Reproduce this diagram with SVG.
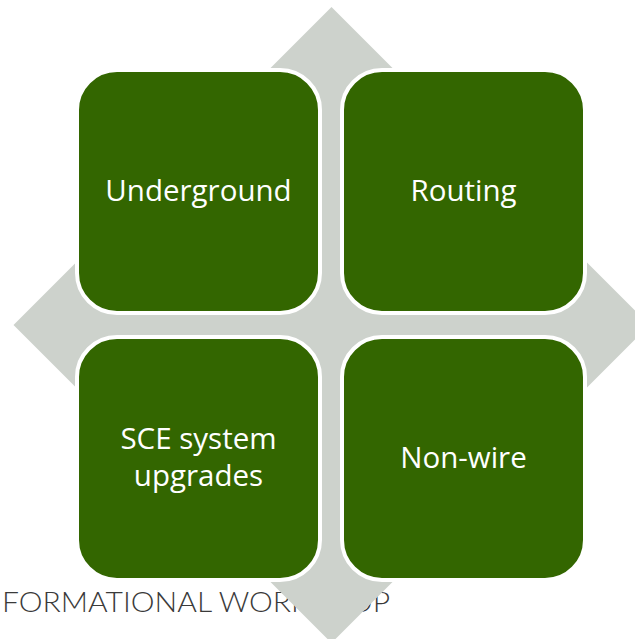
<svg xmlns="http://www.w3.org/2000/svg" width="635" height="639" viewBox="0 0 635 639">
  <style>
    .box { fill: #336600; stroke: #ffffff; stroke-width: 4; }
    .lbl { fill: #ffffff; font-family: "Open Sans", "Liberation Sans", sans-serif; font-size: 29.5px; text-anchor: middle; }
    .foot { fill: #3a3a3a; font-family: Lato, "Liberation Sans", sans-serif; font-weight: 300; font-size: 27px; }
    .arrow { fill: #cdd2cc; }
  </style>
  <rect width="635" height="639" fill="#ffffff"/>
  <text class="foot" x="2" y="612" textLength="388" lengthAdjust="spacingAndGlyphs">FORMATIONAL WORKSHOP</text>
  <g id="connectors">
    <path class="arrow" d="M331.5,7 L404.5,80 L376.5,80 L376.5,280 L576.5,280 L576.5,252 L649.5,325 L576.5,398 L576.5,370 L376.5,370 L376.5,570 L404.5,570 L331.5,643 L258.5,570 L286.5,570 L286.5,370 L86.5,370 L86.5,398 L13.5,325 L86.5,252 L86.5,280 L286.5,280 L286.5,80 L258.5,80 Z"/>
  </g>
  <g id="underground">
    <rect class="box" x="77" y="70" width="243" height="243" rx="40"/>
    <text class="lbl" x="198.5" y="201">Underground</text>
  </g>
  <g id="routing">
    <rect class="box" x="342" y="70" width="243" height="243" rx="40"/>
    <text class="lbl" x="463.5" y="201">Routing</text>
  </g>
  <g id="sce-system-upgrades">
    <rect class="box" x="77" y="337" width="243" height="243" rx="40"/>
    <text class="lbl" x="198.5" y="449">SCE system</text>
    <text class="lbl" x="198.5" y="486">upgrades</text>
  </g>
  <g id="non-wire">
    <rect class="box" x="342" y="337" width="243" height="243" rx="40"/>
    <text class="lbl" x="463.5" y="468">Non-wire</text>
  </g>
</svg>
